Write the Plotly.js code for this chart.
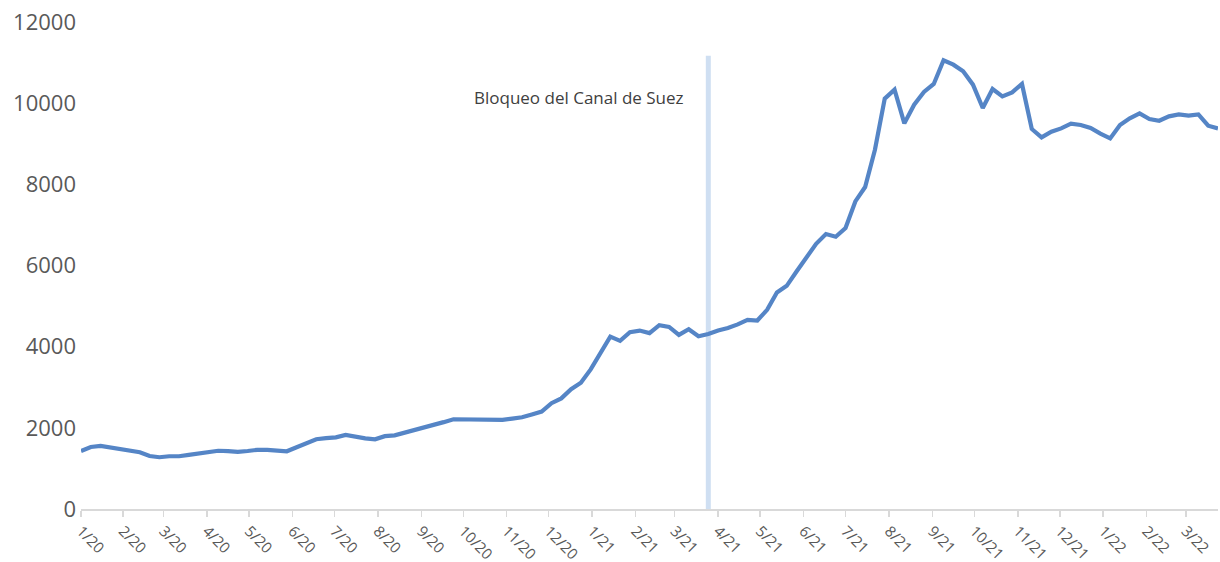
<!DOCTYPE html>
<html>
<head>
<meta charset="utf-8">
<script src="https://cdn.plot.ly/plotly-3.0.1.min.js"></script>
<style>
  html, body { margin: 0; padding: 0; background: #ffffff; }
  #chart { width: 1220px; height: 562px; }
</style>
</head>
<body>
<div id="chart"></div>
<script>
// Weekly dates (Thursdays)
const dates = [
  '2020-01-02','2020-01-09','2020-01-16','2020-01-23','2020-01-30',
  '2020-02-06','2020-02-13','2020-02-20','2020-02-27',
  '2020-03-05','2020-03-12','2020-03-19','2020-03-26',
  '2020-04-02','2020-04-09','2020-04-16','2020-04-23','2020-04-30',
  '2020-05-07','2020-05-14','2020-05-21','2020-05-28',
  '2020-06-04','2020-06-11','2020-06-18','2020-06-25',
  '2020-07-02','2020-07-09','2020-07-16','2020-07-23','2020-07-30',
  '2020-08-06','2020-08-13','2020-08-20','2020-08-27',
  '2020-09-03','2020-09-10','2020-09-17','2020-09-24',
  '2020-10-01','2020-10-08','2020-10-15','2020-10-22','2020-10-29',
  '2020-11-05','2020-11-12','2020-11-19','2020-11-26',
  '2020-12-03','2020-12-10','2020-12-17','2020-12-24','2020-12-31',
  '2021-01-07','2021-01-14','2021-01-21','2021-01-28',
  '2021-02-04','2021-02-11','2021-02-18','2021-02-25',
  '2021-03-04','2021-03-11','2021-03-18','2021-03-25',
  '2021-04-01','2021-04-08','2021-04-15','2021-04-22','2021-04-29',
  '2021-05-06','2021-05-13','2021-05-20','2021-05-27',
  '2021-06-03','2021-06-10','2021-06-17','2021-06-24',
  '2021-07-01','2021-07-08','2021-07-15','2021-07-22','2021-07-29',
  '2021-08-05','2021-08-12','2021-08-19','2021-08-26',
  '2021-09-02','2021-09-09','2021-09-16','2021-09-23','2021-09-30',
  '2021-10-07','2021-10-14','2021-10-21','2021-10-28',
  '2021-11-04','2021-11-11','2021-11-18','2021-11-25',
  '2021-12-02','2021-12-09','2021-12-16','2021-12-23','2021-12-30',
  '2022-01-06','2022-01-13','2022-01-20','2022-01-27',
  '2022-02-03','2022-02-10','2022-02-17','2022-02-24',
  '2022-03-03','2022-03-10','2022-03-17','2022-03-24'
];

// Freight index values
const values = [
  1430, 1529, 1555, 1515, 1475,
  1440, 1400, 1305, 1275,
  1300, 1300, 1335, 1360,
  1400, 1435, 1425, 1408, 1430,
  1458, 1457, 1447, 1422,
  1520, 1625, 1720, 1745,
  1765, 1825, 1780, 1740, 1718,
  1795, 1815, 1880, 1922,
  1995, 2072, 2140, 2212,
  2212, 2205, 2198, 2195, 2195,
  2228, 2260, 2330, 2400,
  2606, 2725, 2950, 3110, 3440,
  3850, 4249, 4143, 4357,
  4397, 4333, 4530, 4488,
  4291, 4431, 4258, 4310,
  4400, 4460, 4550, 4661, 4644,
  4907, 5334, 5499, 5852,
  6182, 6535, 6774, 6708,
  6922, 7579, 7933, 8853, 10111,
  10333, 9502, 9963, 10276,
  10473, 11056, 10949, 10785, 10456,
  9881, 10350, 10168, 10267,
  10473, 9364, 9157, 9297,
  9379, 9494, 9462, 9388, 9248,
  9132, 9462, 9626, 9749,
  9610, 9568, 9675, 9724,
  9692, 9724, 9445, 9379
];

const tickDates = [
  '2020-01-02','2020-02-01','2020-03-01','2020-04-01','2020-05-01','2020-06-01',
  '2020-07-01','2020-08-01','2020-09-01','2020-10-01','2020-11-01','2020-12-01',
  '2021-01-01','2021-02-01','2021-03-01','2021-04-01','2021-05-01','2021-06-01',
  '2021-07-01','2021-08-01','2021-09-01','2021-10-01','2021-11-01','2021-12-01',
  '2022-01-01','2022-02-01','2022-03-01'
];
const tickLabels = [
  '1/20','2/20','3/20','4/20','5/20','6/20','7/20','8/20','9/20','10/20','11/20','12/20',
  '1/21','2/21','3/21','4/21','5/21','6/21','7/21','8/21','9/21','10/21','11/21','12/21',
  '1/22','2/22','3/22'
];

const eventDate = '2021-03-25';
const eventLabel = 'Bloqueo del Canal de Suez';

const trace = {
  x: dates,
  y: values,
  type: 'scatter',
  mode: 'lines',
  line: { color: '#5585c6', width: 4.2 },
  hoverinfo: 'x+y'
};

const layout = {
  width: 1220,
  height: 562,
  margin: { l: 81, r: 2, t: 22, b: 53 },
  paper_bgcolor: '#ffffff',
  plot_bgcolor: '#ffffff',
  showlegend: false,
  font: { family: 'Open Sans, Noto Sans, sans-serif', color: '#595959' },
  xaxis: {
    type: 'date',
    range: ['2020-01-02', '2022-03-24'],
    tickvals: tickDates,
    ticktext: tickLabels,
    tickangle: 45,
    tickfont: { size: 15, color: '#595959' },
    showgrid: false,
    zeroline: false,
    showline: true,
    linecolor: '#d9d9d9',
    linewidth: 1.5,
    ticks: 'outside',
    ticklen: 6,
    tickwidth: 1.5,
    tickcolor: '#d9d9d9'
  },
  yaxis: {
    range: [0, 12000],
    tickmode: 'linear',
    tick0: 0,
    dtick: 2000,
    tickformat: 'd',
    tickfont: { size: 22, color: '#595959' },
    showgrid: false,
    zeroline: false,
    showline: false,
    ticks: '',
    ticklabelstandoff: 4
  },
  shapes: [{
    type: 'line',
    xref: 'x', yref: 'y',
    x0: eventDate, x1: eventDate,
    y0: 0, y1: 11170,
    line: { color: '#cfdff2', width: 5 },
    layer: 'below'
  }],
  annotations: [{
    x: eventDate, xref: 'x',
    y: 10130, yref: 'y',
    text: eventLabel,
    showarrow: false,
    xanchor: 'right',
    yanchor: 'middle',
    xshift: -22,
    font: { size: 17, color: '#404040', family: 'Open Sans, Noto Sans, sans-serif' }
  }]
};

Plotly.newPlot('chart', [trace], layout, { displayModeBar: false, staticPlot: true });
</script>
</body>
</html>
